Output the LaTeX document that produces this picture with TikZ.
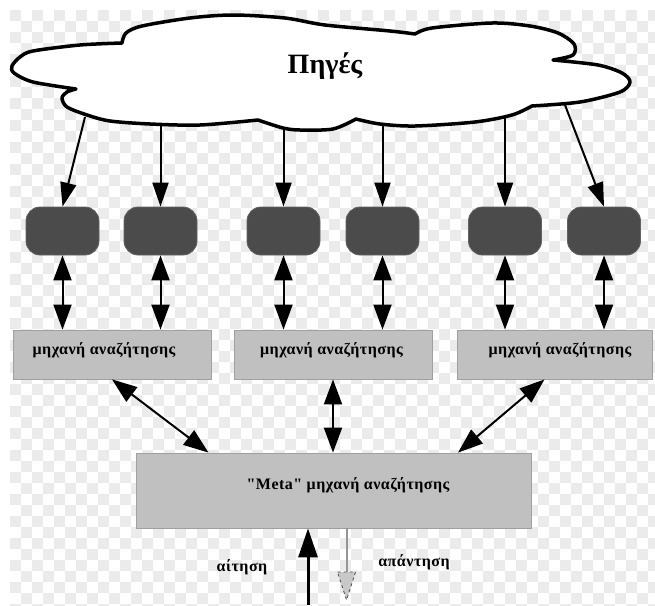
\documentclass[tikz,border=0pt]{standalone}
\usepackage{fontspec}
\setmainfont{Liberation Serif}[Ligatures=TeXOff]
\usetikzlibrary{arrows.meta,calc}
\definecolor{checker}{HTML}{EBEBEB}
\definecolor{dboxfill}{HTML}{4B4B4B}
\definecolor{dboxedge}{HTML}{626262}
\definecolor{gboxfill}{HTML}{C0C0C0}
\definecolor{gboxedge}{HTML}{A0A0A0}
\definecolor{respline}{HTML}{959595}
\definecolor{respfill}{HTML}{C8C8C8}
\newcommand\etfont{\fontsize{16}{18}\selectfont\bfseries\addfontfeature{LetterSpace=3}}
\tikzset{
  cloudline/.style={draw=black, line width=3.5pt, fill=white, line join=round},
  src/.style={font=\fontsize{28}{30}\selectfont\bfseries, inner sep=0pt},
  dbox/.style={draw=dboxedge, fill=dboxfill, rounded corners=14pt,
    minimum width=73pt, minimum height=48pt, inner sep=0pt, line width=0.8pt},
  gbox/.style={draw=gboxedge, fill=gboxfill, minimum height=49pt,
    inner sep=0pt, line width=0.8pt},
  etext/.style={font=\etfont, inner sep=0pt},
  feed/.style={line width=2pt, -{Triangle[length=24pt,width=16pt]}},
  dbl/.style={line width=2pt,
    {Triangle[length=25pt,width=18pt]}-{Triangle[length=25pt,width=18pt]}},
  req/.style={line width=3pt, -{Triangle[length=29pt,width=19pt]}},
  resp/.style={draw=respline, line width=2pt},
  resphead/.style={fill=respfill, draw=black!70, dashed, line width=0.8pt},
}
\begin{document}
\begin{tikzpicture}[x=1pt,y=-1pt]
\useasboundingbox (0,0) rectangle (655,605);

% checkered backdrop
\begin{scope}
  \clip (10,10) rectangle (655,605);
  \foreach \j in {0,...,54}{
    \pgfmathsetmacro\yy{15.5+11*\j}
    \pgfmathsetmacro\ph{mod(\j,2)*11}
    \draw[checker, line width=11pt, dash pattern=on 11pt off 11pt, dash phase=\ph]
      (10,\yy) -- (655,\yy);
  }
\end{scope}

% the cloud of sources
\draw[cloudline]
  plot[smooth] coordinates {(122,43) (126,33) (142,26) (190,18) (233,15) (285,18) (325,25) (390,31) (415,34)}
  -- plot[smooth] coordinates {(415,34) (432,28) (492,23) (530,26) (558,33) (574,44) (573,55) (553,60)}
  -- plot[smooth] coordinates {(553,60) (598,65) (622,73) (630,82) (620,92) (580,102) (532,106)}
  -- plot[smooth] coordinates {(532,106) (512,115) (475,122) (415,126) (380,124) (356,119)}
  -- plot[smooth] coordinates {(356,119) (333,129) (300,130) (283,128) (258,120)}
  -- plot[smooth] coordinates {(258,120) (200,125) (150,124) (110,121) (87,115) (67,107) (62,98) (67,92) (76,89)}
  -- plot[smooth] coordinates {(76,89) (33,82) (14,73) (12,66) (20,57) (33,51) (80,45) (122,43)}
  -- cycle;
\node[src] (src) at (325,66) {Πηγές};

% crawlers
\foreach \n/\x in {1/62.5,2/160.5,3/283.5,4/382.5,5/505,6/604}
  \node[dbox] (d\n) at (\x,231) {};

% search engines
\node[gbox, minimum width=198pt,
  label={[etext, xshift=-8pt, yshift=4pt]center:μηχανή αναζήτησης}] (e1) at (112,354.5) {};
\node[gbox, minimum width=198pt,
  label={[etext, xshift=-1.5pt, yshift=4pt]center:μηχανή αναζήτησης}] (e2) at (333,354.5) {};
\node[gbox, minimum width=195pt,
  label={[etext, xshift=5.5pt, yshift=4pt]center:μηχανή αναζήτησης}] (e3) at (554.5,354.5) {};

% meta search engine
\node[gbox, minimum width=395pt, minimum height=75pt,
  label={[etext, xshift=14.5pt, yshift=5pt]center:"Meta" μηχανή αναζήτησης}] (meta) at (333.5,490.5) {};

% feeds from the sources
\coordinate (s1) at (85,117);
\coordinate (s2) at (160.5,125);
\coordinate (s3) at (283.5,128);
\coordinate (s4) at (382.5,123);
\coordinate (s5) at (505,117);
\coordinate (s6) at (565,105);
\foreach \n in {1,...,6}
  \draw[feed] (s\n) -- (d\n.north);

% crawlers <-> engines
\draw[dbl] (d1.south) -- (d1.south |- e1.north);
\draw[dbl] (d2.south) -- (d2.south |- e1.north);
\draw[dbl] (d3.south) -- (d3.south |- e2.north);
\draw[dbl] (d4.south) -- (d4.south |- e2.north);
\draw[dbl] (d5.south) -- (d5.south |- e3.north);
\draw[dbl] (d6.south) -- (d6.south |- e3.north);

% engines <-> meta engine
\draw[dbl] (e1.south) -- ([xshift=-125pt]meta.north);
\draw[dbl] (e2.south) -- (e2.south |- meta.north);
\draw[dbl] ([xshift=-10pt]e3.south) -- ([xshift=124.5pt]meta.north);

% request and answer
\coordinate (q0) at (308,605);
\draw[req] (q0) -- (q0 |- meta.south);
\coordinate (r1) at (346.5,572);
\draw[resp] ([xshift=13pt]meta.south) -- (r1);
\filldraw[resphead] ([xshift=-9pt]r1) -- ([xshift=9pt]r1) -- ([yshift=-28pt]r1) -- cycle;

\node[etext] (qlab) at (242,567) {αίτηση};
\node[etext] (rlab) at (414,562) {απάντηση};
\end{tikzpicture}
\end{document}
